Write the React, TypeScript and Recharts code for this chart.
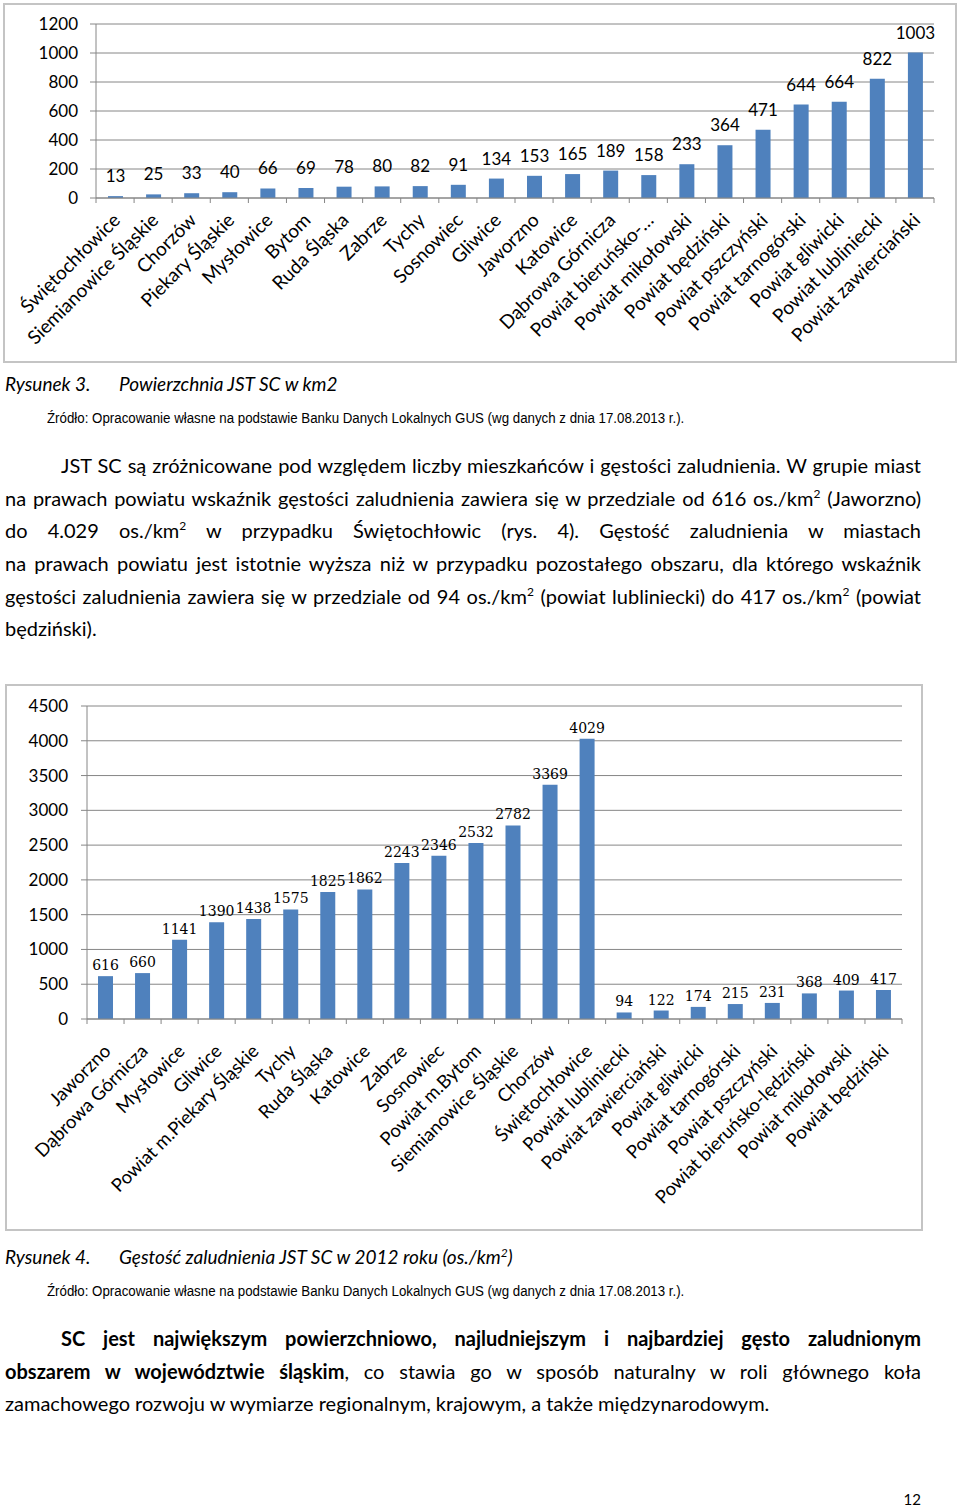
import React from "react"
import { BarChart, Bar, XAxis, YAxis, CartesianGrid, LabelList } from "recharts"

const AREA_CATEGORIES = [
  "Świętochłowice",
  "Siemianowice Śląskie",
  "Chorzów",
  "Piekary Śląskie",
  "Mysłowice",
  "Bytom",
  "Ruda Śląska",
  "Zabrze",
  "Tychy",
  "Sosnowiec",
  "Gliwice",
  "Jaworzno",
  "Katowice",
  "Dąbrowa Górnicza",
  "Powiat bieruńsko-…",
  "Powiat mikołowski",
  "Powiat będziński",
  "Powiat pszczyński",
  "Powiat tarnogórski",
  "Powiat gliwicki",
  "Powiat lubliniecki",
  "Powiat zawierciański",
]
const AREA_VALUES = [13, 25, 33, 40, 66, 69, 78, 80, 82, 91, 134, 153, 165, 189, 158, 233, 364, 471, 644, 664, 822, 1003]
const AREA_TICKS = [0, 200, 400, 600, 800, 1000, 1200]

const DENSITY_CATEGORIES = [
  "Jaworzno",
  "Dąbrowa Górnicza",
  "Mysłowice",
  "Gliwice",
  "Powiat m.Piekary Śląskie",
  "Tychy",
  "Ruda Śląska",
  "Katowice",
  "Zabrze",
  "Sosnowiec",
  "Powiat m.Bytom",
  "Siemianowice Śląskie",
  "Chorzów",
  "Świętochłowice",
  "Powiat lubliniecki",
  "Powiat zawierciański",
  "Powiat gliwicki",
  "Powiat tarnogórski",
  "Powiat pszczyński",
  "Powiat bieruńsko-lędziński",
  "Powiat mikołowski",
  "Powiat będziński",
]
const DENSITY_VALUES = [616, 660, 1141, 1390, 1438, 1575, 1825, 1862, 2243, 2346, 2532, 2782, 3369, 4029, 94, 122, 174, 215, 231, 368, 409, 417]
const DENSITY_TICKS = [0, 500, 1000, 1500, 2000, 2500, 3000, 3500, 4000, 4500]

const areaData = AREA_CATEGORIES.map((name, i) => ({ name, value: AREA_VALUES[i] }))
const densityData = DENSITY_CATEGORIES.map((name, i) => ({ name, value: DENSITY_VALUES[i] }))

const BLUE = "#4f81bd"
const GREY = "#868686"
const SANS = "Lato, 'Open Sans', sans-serif"

// category label rotated like Excel, with tick marks between categories
const CategoryTick = (props: any) => {
  const { x, y, payload, index, step, count, fontSize, offX, offY } = props
  const tx = x + offX
  const ty = y + offY
  return (
    <g>
      <line x1={x - step / 2} y1={y} x2={x - step / 2} y2={y + 5} stroke={GREY} />
      {index === count - 1 && <line x1={x + step / 2} y1={y} x2={x + step / 2} y2={y + 5} stroke={GREY} />}
      <text
        x={tx}
        y={ty}
        transform={`rotate(-45 ${tx} ${ty})`}
        textAnchor="end"
        dominantBaseline="middle"
        fontFamily={SANS}
        fontSize={fontSize}
        fill="#000"
      >
        {payload.value}
      </text>
    </g>
  )
}

const para: React.CSSProperties = {
  position: "absolute",
  left: 5,
  width: 916,
  fontFamily: SANS,
  fontSize: 20,
  lineHeight: "22px",
  color: "#000",
  whiteSpace: "nowrap",
  textAlign: "justify",
  textAlignLast: "justify",
}
const lastLine: React.CSSProperties = { textAlignLast: "left" }
const sup: React.CSSProperties = { fontSize: 12, lineHeight: 0 }

const caption: React.CSSProperties = {
  position: "absolute",
  left: 5,
  fontFamily: SANS,
  fontStyle: "italic",
  fontSize: 19,
  lineHeight: "22px",
  color: "#000",
  whiteSpace: "nowrap",
}

const source: React.CSSProperties = {
  position: "absolute",
  left: 47,
  fontFamily: "'Liberation Sans', Arial, sans-serif",
  fontSize: 14,
  lineHeight: "18px",
  color: "#000",
  whiteSpace: "nowrap",
  transform: "scaleX(0.95)",
  transformOrigin: "left center",
}

const box: React.CSSProperties = {
  position: "absolute",
  border: "2px solid #c4c4c4",
  boxSizing: "border-box",
  background: "#fff",
}

export default function App() {
  const areaStep = 838 / AREA_CATEGORIES.length
  const densityStep = 815 / DENSITY_CATEGORIES.length
  return (
    <div style={{ position: "absolute", left: 0, top: 0, width: 960, height: 1508, background: "#fff", overflow: "hidden" }}>
      <div style={{ ...box, left: 3, top: 3, width: 954, height: 360 }}>
        <BarChart width={950} height={356} data={areaData} margin={{ top: 19, right: 21, left: 0, bottom: 0 }}>
          <CartesianGrid vertical={false} stroke={GREY} />
          <XAxis
            dataKey="name"
            interval={0}
            height={163}
            tickSize={0}
            tickMargin={0}
            tickLine={false}
            axisLine={{ stroke: GREY }}
            tick={<CategoryTick step={areaStep} count={AREA_CATEGORIES.length} fontSize={19} offX={3} offY={20} />}
          />
          <YAxis
            width={91}
            domain={[0, 1200]}
            ticks={AREA_TICKS}
            interval={0}
            tickSize={6}
            tickMargin={12}
            tickLine={{ stroke: GREY }}
            axisLine={{ stroke: GREY }}
            tick={{ fill: "#000", fontSize: 17, fontFamily: SANS }}
          />
          <Bar dataKey="value" fill={BLUE} barSize={15} isAnimationActive={false}>
            <LabelList dataKey="value" position="top" offset={14} fill="#000" fontSize={17} fontFamily={SANS} />
          </Bar>
        </BarChart>
      </div>

      <div style={{ ...caption, top: 373 }}>
        Rysunek 3.<span style={{ position: "absolute", left: 114 }}>Powierzchnia JST SC w km2</span>
      </div>
      <div style={{ ...source, top: 409 }}>
        Źródło: Opracowanie własne na podstawie Banku Danych Lokalnych GUS (wg danych z dnia 17.08.2013 r.).
      </div>

      <div style={{ ...para, top: 454, paddingLeft: 56, width: 860 }}>
        JST SC są zróżnicowane pod względem liczby mieszkańców i gęstości zaludnienia. W grupie miast
      </div>
      <div style={{ ...para, top: 487 }}>
        na prawach powiatu wskaźnik gęstości zaludnienia zawiera się w przedziale od 616 os./km<sup style={sup}>2</sup> (Jaworzno)
      </div>
      <div style={{ ...para, top: 519 }}>
        do 4.029 os./km<sup style={sup}>2</sup> w przypadku Świętochłowic (rys. 4). Gęstość zaludnienia w miastach
      </div>
      <div style={{ ...para, top: 552 }}>
        na prawach powiatu jest istotnie wyższa niż w przypadku pozostałego obszaru, dla którego wskaźnik
      </div>
      <div style={{ ...para, top: 585 }}>
        gęstości zaludnienia zawiera się w przedziale od 94 os./km<sup style={sup}>2</sup> (powiat lubliniecki) do 417 os./km
        <sup style={sup}>2</sup> (powiat
      </div>
      <div style={{ ...para, ...lastLine, top: 617 }}>będziński).</div>

      <div style={{ ...box, left: 5, top: 684, width: 918, height: 547 }}>
        <BarChart width={914} height={543} data={densityData} margin={{ top: 20, right: 19, left: 0, bottom: 0 }}>
          <CartesianGrid vertical={false} stroke={GREY} />
          <XAxis
            dataKey="name"
            interval={0}
            height={210}
            tickSize={0}
            tickMargin={0}
            tickLine={false}
            axisLine={{ stroke: GREY }}
            tick={<CategoryTick step={densityStep} count={DENSITY_CATEGORIES.length} fontSize={18.5} offX={3} offY={30} />}
          />
          <YAxis
            width={80}
            domain={[0, 4500]}
            ticks={DENSITY_TICKS}
            interval={0}
            tickSize={6}
            tickMargin={13}
            tickLine={{ stroke: GREY }}
            axisLine={{ stroke: GREY }}
            tick={{ fill: "#000", fontSize: 17, fontFamily: SANS }}
          />
          <Bar dataKey="value" fill={BLUE} barSize={15} isAnimationActive={false}>
            <LabelList dataKey="value" position="top" offset={6} fill="#000" fontSize={14} fontFamily="'DejaVu Serif', serif" />
          </Bar>
        </BarChart>
      </div>

      <div style={{ ...caption, top: 1246 }}>
        Rysunek 4.
        <span style={{ position: "absolute", left: 114 }}>
          Gęstość zaludnienia JST SC w 2012 roku (os./km<sup style={sup}>2</sup>)
        </span>
      </div>
      <div style={{ ...source, top: 1282 }}>
        Źródło: Opracowanie własne na podstawie Banku Danych Lokalnych GUS (wg danych z dnia 17.08.2013 r.).
      </div>

      <div style={{ ...para, top: 1327, paddingLeft: 56, width: 860, fontWeight: 700 }}>
        SC jest największym powierzchniowo, najludniejszym i najbardziej gęsto zaludnionym
      </div>
      <div style={{ ...para, top: 1360 }}>
        <b>obszarem w województwie śląskim</b>, co stawia go w sposób naturalny w roli głównego koła
      </div>
      <div style={{ ...para, ...lastLine, top: 1392 }}>
        zamachowego rozwoju w wymiarze regionalnym, krajowym, a także międzynarodowym.
      </div>

      <div style={{ position: "absolute", left: 890, top: 1490, fontFamily: SANS, fontSize: 15, width: 31, textAlign: "right" }}>12</div>
    </div>
  )
}
